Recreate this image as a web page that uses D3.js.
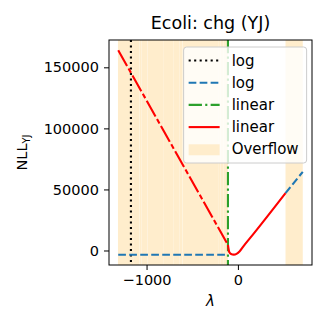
<!DOCTYPE html>
<html>
<head>
<meta charset="utf-8">
<script src="https://cdn.jsdelivr.net/npm/d3@7"></script>
<style>
  body { margin: 0; background: #fff; }
  text { font-family: "DejaVu Sans", sans-serif; fill: #000; }
</style>
</head>
<body>
<svg id="chart"></svg>
<script>
// curves: [lambda, NLL]
const redLinearLeft = [[-1310, 164000], [-109, 4600]];
const redLinearMain = [[-109, 4600], [-95, -1200], [-75, -2900], [-45, -3400], [-15, -2800],
  [20, -600], [60, 3400], [164, 13000], [521, 47000]];
const blueLogLeft = [[-1310, -3500], [-109, -3500]];
const blueLogRight = [[521, 47000], [710, 64400]];
const blackLogVline = -1171;
const greenLinearVline = -109;
// overflow spans (lambda ranges)
const overflowSpans = [[-1313, -1139], [-1137, -1081], [-1079, -1059], [-1057, -993],
  [-991, -811], [-809, -710], [-708, -644], [-642, -607], [-605, -218], [-216, -189],
  [-187, -156], [-154, -109], [521, 710]];
const xTicks = [-1000, 0];
const yTicks = [0, 50000, 100000, 150000];
const legendItems = [
  { label: "log", color: "#000", dash: "2.1,3.4", kind: "line" },
  { label: "log", color: "#1f77b4", dash: "7.7,3.3", kind: "line" },
  { label: "linear", color: "#2ca02c", dash: "13.3,3.3,2.1,3.3", kind: "line" },
  { label: "linear", color: "#ff0000", dash: null, kind: "line" },
  { label: "Overflow", color: "#ffedcc", kind: "patch" }
];

const W = 329, H = 329;
const margin = { top: 40, right: 17, bottom: 64, left: 109 };
const width = W - margin.left - margin.right;
const height = H - margin.top - margin.bottom;

const svg = d3.select("#chart").attr("width", W).attr("height", H);
const chart = svg.append("g").attr("transform", `translate(${margin.left},${margin.top})`);

const x = d3.scaleLinear().domain([-1411, 811]).range([0, width]);
const y = d3.scaleLinear().domain([-11875, 172375]).range([height, 0]);

// clip
svg.append("clipPath").attr("id", "clip")
  .append("rect").attr("width", width).attr("height", height);
const plot = chart.append("g").attr("clip-path", "url(#clip)");

// overflow shading
plot.selectAll(".span")
  .data(overflowSpans)
  .join("rect")
  .attr("class", "span")
  .attr("x", d => x(d[0]))
  .attr("width", d => x(d[1]) - x(d[0]))
  .attr("y", 0)
  .attr("height", height)
  .attr("fill", "#ffedcc");

const line = d3.line().x(d => x(d[0])).y(d => y(d[1]));

// vertical lines
plot.append("line")
  .attr("x1", x(blackLogVline)).attr("x2", x(blackLogVline))
  .attr("y1", 0).attr("y2", height)
  .attr("stroke", "#000").attr("stroke-width", 2.1)
  .attr("stroke-dasharray", "2.1,3.4");

// blue dashed log
[blueLogLeft, blueLogRight].forEach(pts => {
  plot.append("path").datum(pts)
    .attr("d", line).attr("fill", "none")
    .attr("stroke", "#1f77b4").attr("stroke-width", 2.1)
    .attr("stroke-dasharray", "7.7,3.3");
});

plot.append("line")
  .attr("x1", x(greenLinearVline)).attr("x2", x(greenLinearVline))
  .attr("y1", 0).attr("y2", height)
  .attr("stroke", "#2ca02c").attr("stroke-width", 2.1)
  .attr("stroke-dasharray", "13.3,3.3,2.1,3.3");

// red linear curve (broken in overflow region)
plot.append("path").datum(redLinearLeft)
  .attr("d", line).attr("fill", "none")
  .attr("stroke", "#ff0000").attr("stroke-width", 2.1)
  .attr("stroke-dasharray", "18,3,5,3");
plot.append("path").datum(redLinearMain)
  .attr("d", d3.line().x(d => x(d[0])).y(d => y(d[1])).curve(d3.curveMonotoneX))
  .attr("fill", "none")
  .attr("stroke", "#ff0000").attr("stroke-width", 2.1);

// axes
const xAxis = d3.axisBottom(x).tickValues(xTicks).tickSize(5).tickPadding(5)
  .tickFormat(d => d < 0 ? "\u2212" + Math.abs(d) : d);
const yAxis = d3.axisLeft(y).tickValues(yTicks).tickSize(5).tickPadding(5)
  .tickFormat(d => d);

const xAxisG = chart.append("g").attr("transform", `translate(0,${height})`).call(xAxis);
const yAxisG = chart.append("g").call(yAxis);
[xAxisG, yAxisG].forEach(g => {
  g.select(".domain").remove();
  g.selectAll(".tick line").attr("stroke", "#000").attr("stroke-width", 1);
  g.selectAll(".tick text").style("font-size", "14.5px").style("font-family", "DejaVu Sans");
});

chart.append("rect")
  .attr("width", width).attr("height", height)
  .attr("fill", "none").attr("stroke", "#000").attr("stroke-width", 1);

// legend
const legend = chart.append("g").attr("transform", `translate(${x(-594)},${7})`);
legend.append("rect")
  .attr("width", 123).attr("height", 116).attr("rx", 3)
  .attr("fill", "#fff").attr("fill-opacity", 0.8)
  .attr("stroke", "#cccccc").attr("stroke-width", 1);
legendItems.forEach((d, i) => {
  const row = legend.append("g").attr("transform", `translate(5,${13.5 + i * 22.2})`);
  if (d.kind === "line") {
    row.append("line").attr("x1", 0).attr("x2", 31).attr("y1", 0).attr("y2", 0)
      .attr("stroke", d.color).attr("stroke-width", 2.1)
      .attr("stroke-dasharray", d.dash);
  } else {
    row.append("rect").attr("x", 0).attr("y", -5).attr("width", 31).attr("height", 11)
      .attr("fill", d.color);
  }
  row.append("text").attr("x", 43).attr("y", 5).style("font-size", "15px").text(d.label);
});

// titles
svg.append("text")
  .attr("x", margin.left + width / 2).attr("y", 29)
  .attr("text-anchor", "middle").style("font-size", "17.5px")
  .text("Ecoli: chg (YJ)");

svg.append("text")
  .attr("x", margin.left + width / 2).attr("y", 306)
  .attr("text-anchor", "middle").style("font-size", "15px").style("font-style", "italic")
  .text("\u03bb");

const yl = svg.append("text")
  .attr("transform", `translate(27,${margin.top + height / 2}) rotate(-90)`)
  .attr("text-anchor", "middle").style("font-size", "14.5px");
yl.append("tspan").text("NLL");
yl.append("tspan").attr("dy", 3).style("font-size", "10px").text("YJ");
</script>
</body>
</html>
